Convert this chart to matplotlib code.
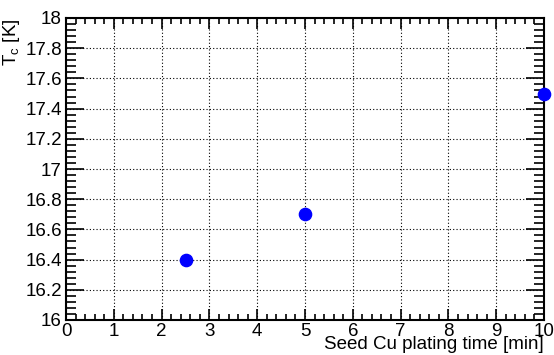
import matplotlib
matplotlib.use('Agg')
import matplotlib.pyplot as plt
from matplotlib.ticker import MultipleLocator

plt.rcParams['font.family'] = ['Liberation Sans', 'DejaVu Sans']

# datos
tiempo = [2.5, 5, 10]
tc = [16.4, 16.7, 17.5]

fig = plt.figure(figsize=(5.54, 3.55), dpi=100)
ax = fig.add_axes([66/554, 1 - 320/355, (544-66)/554, (320-18)/355])

ax.plot(tiempo, tc, 'o', color='#0000ff', markersize=8.8, clip_on=False, zorder=5)

ax.set_xlim(0, 10)
ax.set_ylim(16, 18)
ax.xaxis.set_major_locator(MultipleLocator(1))
ax.xaxis.set_minor_locator(MultipleLocator(0.2))
ax.yaxis.set_major_locator(MultipleLocator(0.2))
ax.yaxis.set_minor_locator(MultipleLocator(0.04))
ax.set_yticklabels([f'{v:g}' for v in ax.get_yticks()])

ax.grid(True, which='major', color='black', linestyle=(0, (1, 2)), linewidth=0.8)
ax.tick_params(axis='both', which='both', direction='in', top=True, right=True,
               labelsize=13.5, width=1.2)
ax.tick_params(axis='y', which='major', length=13, pad=3)
ax.tick_params(axis='y', which='minor', length=7)
ax.tick_params(axis='x', which='major', length=8, pad=2)
ax.tick_params(axis='x', which='minor', length=4)
for s in ax.spines.values():
    s.set_linewidth(1.5)

ax.set_xlabel('Seed Cu plating time [min]', fontsize=13.5, loc='right', labelpad=-3)
ax.set_ylabel('T$_\\mathregular{c}$ [K]', fontsize=13.5, loc='top', labelpad=2)

fig.savefig('out.png', dpi=100)
